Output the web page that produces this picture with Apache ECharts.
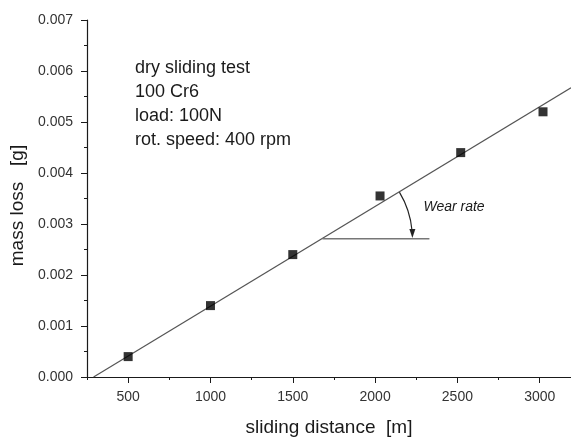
<!DOCTYPE html>
<html>
<head>
<meta charset="utf-8">
<script src="https://cdn.jsdelivr.net/npm/echarts@6/dist/echarts.min.js"></script>
<style>
html,body{margin:0;padding:0;background:#fff;}
#chart{width:571px;height:439px;}
</style>
</head>
<body>
<div id="chart"></div>
<script>
// Measured mass loss vs sliding distance
const distance = [500, 1000, 1500, 2030, 2520, 3020];
const massLoss = [0.0004, 0.0014, 0.0024, 0.00355, 0.0044, 0.0052];
// Linear fit line end points
const fitLine = [[290, 0], [3190, 0.00567]];
// Horizontal reference for the wear rate angle
const wearBase = [[1680, 0.00271], [2330, 0.00271]];
const xMajorTicks = [500, 1000, 1500, 2000, 2500, 3000];
const infoLines = ['dry sliding test', '100 Cr6', 'load: 100N', 'rot. speed: 400 rpm'];

const FONT = '"Liberation Sans", Arial, Helvetica, sans-serif';
const INK = '#1a1a1a';

const chart = echarts.init(document.getElementById('chart'), null, {renderer: 'canvas'});

const xCommon = {
  type: 'value', min: 250, max: 3190, gridIndex: 0, position: 'bottom',
  splitLine: {show: false}
};

chart.setOption({
  animation: false,
  backgroundColor: '#fff',
  grid: {left: 87, top: 20, right: 0, bottom: 62, containLabel: false, outerBoundsMode: 'none'},
  xAxis: [
    Object.assign({}, xCommon, {
      interval: 250,
      axisLine: {show: true, lineStyle: {color: INK, width: 1.2}},
      axisTick: {show: true, length: 3, lineStyle: {color: INK}},
      axisLabel: {show: false},
      name: 'sliding distance  [m]',
      nameLocation: 'middle', nameGap: 41,
      nameTextStyle: {fontFamily: FONT, fontSize: 19, color: INK}
    }),
    Object.assign({}, xCommon, {
      axisLine: {show: false},
      axisTick: {show: true, length: 6, customValues: xMajorTicks, lineStyle: {color: INK}},
      axisLabel: {show: true, customValues: xMajorTicks, margin: 13,
        formatter: v => String(v),
        fontFamily: FONT, fontSize: 14, color: '#333'}
    })
  ],
  yAxis: {
    type: 'value', min: 0, max: 0.007, interval: 0.001,
    axisLine: {show: true, lineStyle: {color: INK, width: 1.2}},
    axisTick: {show: true, length: 6, lineStyle: {color: INK}},
    minorTick: {show: true, splitNumber: 2, length: 3, lineStyle: {color: INK}},
    splitLine: {show: false},
    axisLabel: {formatter: v => v.toFixed(3), margin: 14,
      fontFamily: FONT, fontSize: 14, color: '#333'},
    name: 'mass loss   [g]', nameLocation: 'middle', nameGap: 59, nameRotate: 90,
    nameTextStyle: {fontFamily: FONT, fontSize: 19, color: INK, padding: [0, 14, 0, 0]}
  },
  series: [
    {
      type: 'line', data: fitLine, xAxisIndex: 0, symbol: 'none',
      lineStyle: {color: '#555', width: 1.2}, z: 2
    },
    {
      type: 'line', data: wearBase, xAxisIndex: 0, symbol: 'none',
      lineStyle: {color: '#777', width: 1.6}, z: 2
    },
    {
      type: 'scatter', xAxisIndex: 0,
      data: distance.map((d, i) => [d, massLoss[i]]),
      symbol: 'rect', symbolSize: 9,
      itemStyle: {color: '#000'}, z: 3
    }
  ]
});

// Text block and the wear-rate arc, placed relative to the axes
function drawAnnotations() {
  const vertex = chart.convertToPixel({xAxisIndex: 0, yAxisIndex: 0}, wearBase[0]);
  const p1 = chart.convertToPixel({xAxisIndex: 0, yAxisIndex: 0}, fitLine[0]);
  const p2 = chart.convertToPixel({xAxisIndex: 0, yAxisIndex: 0}, fitLine[1]);
  const lineAngle = Math.atan2(p2[1] - p1[1], p2[0] - p1[0]);
  const r = 90;
  const endAngle = -0.03;
  const tipX = vertex[0] + r * Math.cos(endAngle);
  const tipY = vertex[1] + r * Math.sin(endAngle);
  const elements = infoLines.map((t, i) => ({
    type: 'text', left: 135, top: 59 + i * 24,
    style: {text: t, font: '18px ' + FONT, fill: INK}
  }));
  elements.push({
    type: 'arc',
    shape: {cx: vertex[0], cy: vertex[1], r: r, startAngle: lineAngle, endAngle: endAngle - 0.06, clockwise: true},
    style: {stroke: '#222', lineWidth: 1.2, fill: null}
  });
  elements.push({
    type: 'polygon',
    shape: {points: [[tipX, tipY + 2], [tipX - 3, tipY - 7], [tipX + 3, tipY - 7]]},
    style: {fill: '#222'}
  });
  elements.push({
    type: 'text', left: vertex[0] + 101, top: vertex[1] - 39,
    style: {text: 'Wear rate', font: 'italic 14px ' + FONT, fill: INK}
  });
  chart.setOption({graphic: {elements: elements}});
}
drawAnnotations();
</script>
</body>
</html>
